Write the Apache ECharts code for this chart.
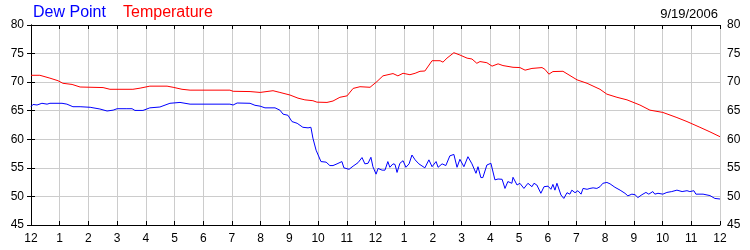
<!DOCTYPE html>
<html>
<head>
<meta charset="utf-8">
<script src="https://cdn.jsdelivr.net/npm/echarts@6/dist/echarts.min.js"></script>
<style>html,body{margin:0;padding:0;background:#fff}#c{width:750px;height:250px}</style>
</head>
<body>
<div id="c"></div>
<script>
// Hours since midnight (0..24) and readings in °F
const tempHours = [0,0.31,0.66,0.94,1.11,1.43,1.71,2.51,2.75,3.55,3.80,4.14,4.74,4.95,5.26,5.54,6.93,7.04,7.63,7.98,8.43,8.67,9.02,9.30,9.54,9.82,9.96,10.31,10.52,10.76,11.01,11.22,11.46,11.81,12.05,12.26,12.61,12.78,12.96,13.20,13.38,13.55,13.72,13.97,14.25,14.35,14.49,14.73,14.94,15.19,15.36,15.53,15.64,15.88,16.06,16.27,16.44,16.79,17.03,17.21,17.45,17.80,17.90,18.04,18.18,18.53,19.02,19.37,19.82,20.06,20.41,20.76,21.21,21.56,22.01,22.50,22.85,23.30,23.65,24];
const temperature = [71.2,71.2,70.7,70.25,69.8,69.6,69.15,69.05,68.75,68.75,68.95,69.3,69.3,69.1,68.75,68.6,68.6,68.4,68.35,68.2,68.5,68.2,67.75,67.2,66.9,66.75,66.5,66.45,66.7,67.35,67.6,68.9,69.2,69.1,70.1,71.1,71.5,71.1,71.55,71.3,71.55,71.9,71.95,73.75,73.75,73.5,74.2,75.15,74.75,74.2,74.05,73.3,73.6,73.4,72.8,73.2,72.9,72.6,72.55,72.1,72.4,72.55,72.25,71.4,71.85,71.9,70.4,69.8,68.75,67.9,67.35,66.9,66.0,65.1,64.7,63.8,63.1,62.1,61.3,60.45];

const dewHours = [0,0.07,0.21,0.38,0.56,0.66,1.08,1.25,1.46,1.71,2.06,2.40,2.65,2.86,3.00,3.34,3.38,3.52,3.62,3.90,4.14,4.49,4.84,5.19,5.54,6.93,7.04,7.18,7.63,7.80,7.98,8.15,8.50,8.67,8.78,8.95,9.09,9.27,9.47,9.65,9.75,9.82,9.93,10.10,10.28,10.41,10.52,10.66,10.83,10.90,11.08,11.22,11.39,11.53,11.63,11.74,11.84,11.91,12.02,12.09,12.23,12.33,12.43,12.50,12.61,12.68,12.75,12.85,12.96,13.06,13.17,13.27,13.38,13.51,13.72,13.86,13.97,14.11,14.18,14.32,14.45,14.59,14.73,14.84,14.94,15.08,15.22,15.36,15.50,15.57,15.67,15.74,15.88,16.02,16.16,16.27,16.41,16.51,16.61,16.75,16.79,16.93,17.03,17.17,17.31,17.45,17.52,17.62,17.76,17.87,18.01,18.11,18.18,18.25,18.32,18.46,18.56,18.67,18.77,18.84,18.95,19.05,19.16,19.23,19.37,19.47,19.58,19.71,19.82,19.92,20.06,20.17,20.34,20.52,20.69,20.79,20.93,21.04,21.14,21.28,21.42,21.52,21.66,21.73,21.84,22.01,22.15,22.32,22.50,22.68,22.85,22.95,23.09,23.16,23.41,23.65,23.82,24];
const dewPoint = [65.7,66.1,66.0,66.3,66.15,66.3,66.3,66.15,65.7,65.7,65.6,65.3,64.95,65.1,65.35,65.35,65.05,65.35,65.05,65.05,65.5,65.65,66.3,66.45,66.15,66.15,66.0,66.35,66.3,65.95,65.8,65.5,65.5,65.1,64.4,64.2,63.1,62.8,62.1,62.0,62.1,60.2,58.1,56.1,56.0,55.4,55.4,55.7,56.1,55.0,54.75,55.3,55.9,56.8,55.7,55.8,56.85,55.2,53.9,54.9,54.6,54.6,56.1,55.1,55.7,55.6,54.2,55.8,56.25,55.1,55.7,57.25,56.4,55.7,55.0,56.4,55.2,56.1,55.1,55.7,55.4,57.1,57.35,55.1,56.5,55.2,56.95,55.7,54.05,55.2,53.3,53.3,55.5,55.8,52.9,53.05,53.0,51.4,52.6,52.3,53.35,52.0,52.3,51.4,52.3,51.7,52.3,52.0,50.55,51.7,51.8,51.25,52.1,51.1,52.3,50.25,49.65,50.65,50.4,51.1,50.65,51.0,50.4,51.4,51.25,51.4,51.5,51.4,51.7,52.3,52.45,52.2,51.6,51.1,50.55,50.1,50.4,50.3,49.8,50.3,50.7,50.4,50.85,50.4,50.55,50.4,50.7,50.85,51.1,50.85,51.0,50.85,51.0,50.4,50.4,50.15,49.65,49.55];

const yTicks = [45,50,55,60,65,70,75,80];
const hourLabels = ['12','1','2','3','4','5','6','7','8','9','10','11','12','1','2','3','4','5','6','7','8','9','10','11','12'];
const dateText = '9/19/2006';

const FONT = 'Liberation Sans, Arial, sans-serif';
const chart = echarts.init(document.getElementById('c'), null, {renderer: 'canvas'});
const axisLabel = {color: '#000', fontSize: 12, fontFamily: FONT};
const lineStyleAxis = {color: '#000', width: 1};
const yBase = {
  type: 'value', min: yTicks[0], max: yTicks[yTicks.length - 1], interval: 5,
  axisLine: {show: true, lineStyle: lineStyleAxis},
  axisTick: {show: true, inside: true, length: 4, lineStyle: lineStyleAxis},
  splitLine: {show: true, lineStyle: {color: '#cccccc', width: 1}},
  axisLabel: Object.assign({margin: 7}, axisLabel)
};
const xBase = {
  type: 'value', min: 0, max: 24, interval: 1,
  axisLine: {show: true, onZero: false, lineStyle: lineStyleAxis},
  axisTick: {show: true, inside: true, length: 4, lineStyle: lineStyleAxis},
  splitLine: {show: true, lineStyle: {color: '#cccccc', width: 1}}
};
chart.setOption({
  animation: false,
  backgroundColor: '#fff',
  title: [
    {text: 'Dew Point', left: 33, top: 5, padding: 0, textStyle: {color: '#0000ff', fontSize: 16, fontWeight: 'normal', fontFamily: FONT, lineHeight: 16}},
    {text: 'Temperature', left: 123, top: 5, padding: 0, textStyle: {color: '#ff0000', fontSize: 16, fontWeight: 'normal', fontFamily: FONT, lineHeight: 16}},
    {text: dateText, right: 32, top: 8, padding: 0, textStyle: {color: '#000', fontSize: 13, fontWeight: 'normal', fontFamily: FONT, lineHeight: 13}}
  ],
  grid: {left: 31, right: 30, top: 25, bottom: 25, containLabel: false},
  xAxis: [
    Object.assign({}, xBase, {position: 'bottom', axisLabel: Object.assign({margin: 8, formatter: v => hourLabels[Math.round(v)]}, axisLabel)}),
    Object.assign({}, xBase, {position: 'top', axisLabel: {show: false}, splitLine: {show: false}})
  ],
  yAxis: [
    Object.assign({}, yBase, {position: 'left'}),
    Object.assign({}, yBase, {position: 'right', splitLine: {show: false}})
  ],
  series: [
    {name: 'Dew Point', type: 'line', xAxisIndex: 0, yAxisIndex: 0, showSymbol: false, symbol: 'none',
     lineStyle: {color: '#0000ff', width: 1}, data: dewHours.map((h, i) => [h, dewPoint[i]])},
    {name: 'Temperature', type: 'line', xAxisIndex: 0, yAxisIndex: 0, showSymbol: false, symbol: 'none',
     lineStyle: {color: '#ff0000', width: 1}, data: tempHours.map((h, i) => [h, temperature[i]])}
  ]
});
</script>
</body>
</html>
